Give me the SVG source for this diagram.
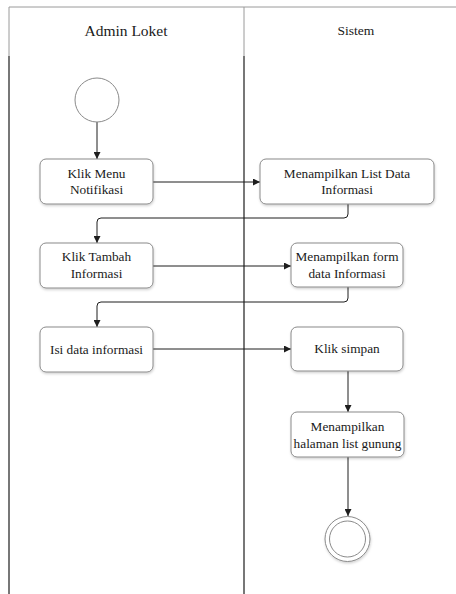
<svg xmlns="http://www.w3.org/2000/svg" width="456" height="594" viewBox="0 0 456 594">
  <defs>
    <style>
      .lane-head { stroke: #9a9a9a; stroke-width: 1; fill: none; }
      .lane { stroke: #2e2e2e; stroke-width: 1.3; fill: none; }
      .act { fill: #ffffff; stroke: #8a8a8a; stroke-width: 1; filter: url(#shadow); }
      .flow { stroke: #1e1e1e; stroke-width: 1; fill: none; marker-end: url(#arrow); }
      .label { font-family: "Liberation Serif", "Times New Roman", serif; font-size: 13.3px; fill: #1a1a1a; text-anchor: middle; }
      .title { font-family: "Liberation Serif", "Times New Roman", serif; fill: #1a1a1a; text-anchor: middle; }
      .state { fill: #ffffff; stroke: #8a8a8a; stroke-width: 1; }
    </style>
    <marker id="arrow" viewBox="0 0 8 8" refX="8" refY="4" markerWidth="7" markerHeight="7" markerUnits="userSpaceOnUse" orient="auto">
      <path d="M0,0 L8,4 L0,8 Z" fill="#1e1e1e"/>
    </marker>
    <filter id="shadow" x="-10%" y="-10%" width="125%" height="135%">
      <feDropShadow dx="0.5" dy="1.5" stdDeviation="1.2" flood-color="#000" flood-opacity="0.18"/>
    </filter>
  </defs>

  <rect x="0" y="0" width="456" height="594" fill="#ffffff"/>

  <!-- swimlanes -->
  <g id="lanes">
    <line class="lane-head" x1="9" y1="7" x2="456" y2="7"/>
    <line class="lane-head" x1="9" y1="7" x2="9" y2="56"/>
    <line class="lane-head" x1="244" y1="7" x2="244" y2="56"/>
    <line class="lane" x1="9" y1="56" x2="456" y2="56" filter="url(#shadow)"/>
    <line class="lane" x1="9" y1="56" x2="9" y2="594"/>
    <line class="lane" x1="244" y1="56" x2="244" y2="594"/>
    <text class="title" x="126" y="36" font-size="15.5px">Admin Loket</text>
    <text class="title" x="356" y="35" font-size="13.5px">Sistem</text>
  </g>

  <!-- connectors -->
  <g id="connectors">
    <path class="flow" d="M97,122 V159" stroke-width="1.8"/>
    <path class="flow" d="M153,182 H260"/>
    <path class="flow" d="M348,204 V214 Q348,218 344,218 H101 Q97,218 97,222 V243"/>
    <path class="flow" d="M153,266 H291"/>
    <path class="flow" d="M348,287 V298 Q348,302 344,302 H101 Q97,302 97,306 V327"/>
    <path class="flow" d="M153,349 H291"/>
    <path class="flow" d="M348,371 V412"/>
    <path class="flow" d="M348,457 V516"/>
  </g>

  <!-- initial state -->
  <g id="start">
    <circle class="state" cx="97" cy="100" r="22"/>
  </g>

  <g id="klik-menu-notifikasi">
    <rect class="act" x="40" y="159" width="113" height="45" rx="6"/>
    <text class="label" x="96.5" y="178">Klik Menu</text>
    <text class="label" x="96.5" y="194">Notifikasi</text>
  </g>

  <g id="menampilkan-list-data">
    <rect class="act" x="260" y="159" width="174" height="45" rx="6"/>
    <text class="label" x="347" y="178">Menampilkan List Data</text>
    <text class="label" x="347" y="194">Informasi</text>
  </g>

  <g id="klik-tambah-informasi">
    <rect class="act" x="40" y="243" width="113" height="45" rx="6"/>
    <text class="label" x="96.5" y="261">Klik Tambah</text>
    <text class="label" x="96.5" y="278">Informasi</text>
  </g>

  <g id="menampilkan-form">
    <rect class="act" x="291" y="243" width="112" height="44" rx="6"/>
    <text class="label" x="347" y="261">Menampilkan form</text>
    <text class="label" x="347" y="278">data Informasi</text>
  </g>

  <g id="isi-data-informasi">
    <rect class="act" x="40" y="327" width="113" height="45" rx="6"/>
    <text class="label" x="96.5" y="354">Isi data informasi</text>
  </g>

  <g id="klik-simpan">
    <rect class="act" x="291" y="327" width="112" height="44" rx="6"/>
    <text class="label" x="347" y="353">Klik simpan</text>
  </g>

  <g id="menampilkan-halaman-list">
    <rect class="act" x="291" y="412" width="113" height="45" rx="6"/>
    <text class="label" x="347.5" y="431">Menampilkan</text>
    <text class="label" x="347.5" y="448">halaman list gunung</text>
  </g>

  <!-- final state -->
  <g id="end">
    <circle class="state" cx="347.5" cy="539" r="22.5" filter="url(#shadow)"/>
    <circle class="state" cx="347.5" cy="539" r="18"/>
  </g>
</svg>
